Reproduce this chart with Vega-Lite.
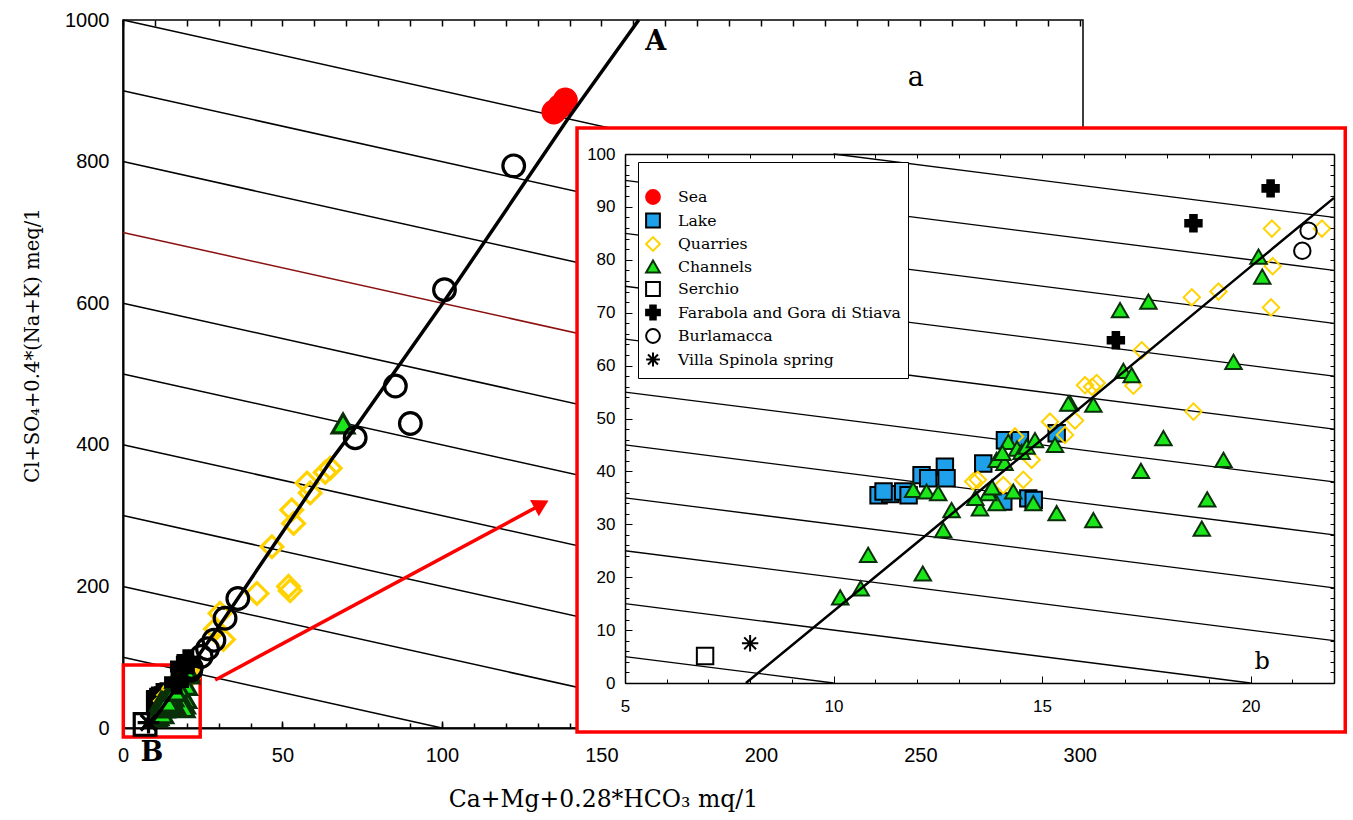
{
  "$schema": "https://vega.github.io/schema/vega-lite/v6.json",
  "width": 960,
  "height": 708,
  "autosize": {"type": "none"},
  "padding": {"left": 123, "top": 20, "right": 270, "bottom": 92},
  "background": "white",
  "config": {
    "view": {"stroke": "black", "strokeWidth": 1.5, "fill": "white"},
    "axis": {"grid": false, "domainColor": "black", "tickColor": "black", "labelColor": "black", "titleColor": "black", "labelFont": "Liberation Sans"}
  },
  "datasets": {
    "pts": [
      {"x": 11.08, "y": 35.5, "g": "Lake"}, {"x": 11.36, "y": 35.7, "g": "Lake"}, {"x": 11.2, "y": 36.2, "g": "Lake"}, {"x": 11.67, "y": 36.2, "g": "Lake"}, {"x": 11.8, "y": 35.5, "g": "Lake"}, {"x": 12.11, "y": 39.3, "g": "Lake"}, {"x": 12.27, "y": 38.7, "g": "Lake"}, {"x": 12.67, "y": 40.9, "g": "Lake"}, {"x": 12.71, "y": 38.7, "g": "Lake"}, {"x": 13.59, "y": 41.5, "g": "Lake"}, {"x": 14.11, "y": 45.9, "g": "Lake"}, {"x": 14.47, "y": 45.9, "g": "Lake"}, {"x": 15.35, "y": 47.2, "g": "Lake"}, {"x": 14.07, "y": 34.3, "g": "Lake"}, {"x": 14.67, "y": 34.9, "g": "Lake"}, {"x": 14.8, "y": 34.6, "g": "Lake"},
      {"x": 6.92, "y": 5.1, "g": "Serchio"},
      {"x": 13.35, "y": 38.1, "g": "Quarries"}, {"x": 13.46, "y": 38.4, "g": "Quarries"}, {"x": 14.35, "y": 46.6, "g": "Quarries"}, {"x": 14.75, "y": 42.2, "g": "Quarries"}, {"x": 14.07, "y": 37.4, "g": "Quarries"}, {"x": 14.55, "y": 38.4, "g": "Quarries"}, {"x": 15.19, "y": 49.4, "g": "Quarries"}, {"x": 15.55, "y": 46.9, "g": "Quarries"}, {"x": 15.79, "y": 49.6, "g": "Quarries"}, {"x": 18.63, "y": 51.3, "g": "Quarries"}, {"x": 16.03, "y": 56.3, "g": "Quarries"}, {"x": 16.31, "y": 56.7, "g": "Quarries"}, {"x": 16.2, "y": 56.0, "g": "Quarries"}, {"x": 17.19, "y": 56.2, "g": "Quarries"}, {"x": 17.39, "y": 62.9, "g": "Quarries"}, {"x": 18.59, "y": 72.9, "g": "Quarries"}, {"x": 19.23, "y": 74.0, "g": "Quarries"}, {"x": 20.51, "y": 85.9, "g": "Quarries"}, {"x": 21.71, "y": 85.9, "g": "Quarries"}, {"x": 20.53, "y": 78.8, "g": "Quarries"}, {"x": 20.49, "y": 71.0, "g": "Quarries"},
      {"x": 29, "y": 140, "g": "Quarries"}, {"x": 30.4, "y": 162, "g": "Quarries"}, {"x": 31.5, "y": 125, "g": "Quarries"}, {"x": 42, "y": 190, "g": "Quarries"}, {"x": 46.7, "y": 256, "g": "Quarries"}, {"x": 51.9, "y": 200, "g": "Quarries"}, {"x": 52.4, "y": 194, "g": "Quarries"}, {"x": 52.9, "y": 308, "g": "Quarries"}, {"x": 53.5, "y": 289, "g": "Quarries"}, {"x": 57.7, "y": 346, "g": "Quarries"}, {"x": 58.7, "y": 332, "g": "Quarries"}, {"x": 63.4, "y": 361, "g": "Quarries"}, {"x": 65, "y": 367, "g": "Quarries"},
      {"x": 10.16, "y": 16.2, "g": "Channels"}, {"x": 10.65, "y": 17.9, "g": "Channels"}, {"x": 10.83, "y": 24.2, "g": "Channels"}, {"x": 12.14, "y": 20.7, "g": "Channels"}, {"x": 12.63, "y": 28.9, "g": "Channels"}, {"x": 12.83, "y": 32.7, "g": "Channels"}, {"x": 11.91, "y": 36.5, "g": "Channels"}, {"x": 12.23, "y": 36.2, "g": "Channels"}, {"x": 12.51, "y": 35.9, "g": "Channels"}, {"x": 17.91, "y": 46.3, "g": "Channels"}, {"x": 17.37, "y": 40.1, "g": "Channels"}, {"x": 19.35, "y": 42.2, "g": "Channels"}, {"x": 18.96, "y": 34.7, "g": "Channels"}, {"x": 18.83, "y": 29.2, "g": "Channels"}, {"x": 16.23, "y": 30.8, "g": "Channels"}, {"x": 15.35, "y": 32.1, "g": "Channels"}, {"x": 15.31, "y": 45.0, "g": "Channels"}, {"x": 14.79, "y": 34.0, "g": "Channels"}, {"x": 13.91, "y": 34.0, "g": "Channels"}, {"x": 13.51, "y": 33.0, "g": "Channels"}, {"x": 13.71, "y": 35.9, "g": "Channels"}, {"x": 13.4, "y": 35.0, "g": "Channels"}, {"x": 14.31, "y": 36.2, "g": "Channels"}, {"x": 13.91, "y": 42.2, "g": "Channels"}, {"x": 14.1, "y": 41.6, "g": "Channels"}, {"x": 14.19, "y": 45.6, "g": "Channels"}, {"x": 14.4, "y": 44.3, "g": "Channels"}, {"x": 14.51, "y": 43.7, "g": "Channels"}, {"x": 14.63, "y": 44.7, "g": "Channels"}, {"x": 14.83, "y": 45.9, "g": "Channels"}, {"x": 14.05, "y": 43.5, "g": "Channels"}, {"x": 13.8, "y": 37.0, "g": "Channels"}, {"x": 16.87, "y": 70.5, "g": "Channels"}, {"x": 17.55, "y": 72.1, "g": "Channels"}, {"x": 20.19, "y": 80.6, "g": "Channels"}, {"x": 20.28, "y": 76.8, "g": "Channels"}, {"x": 19.59, "y": 60.7, "g": "Channels"}, {"x": 16.95, "y": 59.0, "g": "Channels"}, {"x": 17.15, "y": 58.2, "g": "Channels"}, {"x": 15.67, "y": 52.9, "g": "Channels"}, {"x": 15.63, "y": 52.8, "g": "Channels"}, {"x": 16.23, "y": 52.6, "g": "Channels"}, {"x": 69, "y": 430, "g": "Channels"},
      {"x": 20.48, "y": 93.5, "g": "Farabola and Gora di Stiava"}, {"x": 18.63, "y": 86.9, "g": "Farabola and Gora di Stiava"}, {"x": 16.77, "y": 64.8, "g": "Farabola and Gora di Stiava"},
      {"x": 21.39, "y": 85.5, "g": "Burlamacca"}, {"x": 21.24, "y": 81.7, "g": "Burlamacca"}, {"x": 24.5, "y": 101, "g": "Burlamacca"}, {"x": 26.5, "y": 112, "g": "Burlamacca"}, {"x": 28.5, "y": 124, "g": "Burlamacca"}, {"x": 32, "y": 155, "g": "Burlamacca"}, {"x": 36, "y": 183, "g": "Burlamacca"}, {"x": 72.8, "y": 410, "g": "Burlamacca"}, {"x": 90.1, "y": 430, "g": "Burlamacca"}, {"x": 85.4, "y": 483, "g": "Burlamacca"}, {"x": 100.8, "y": 619, "g": "Burlamacca"}, {"x": 122.5, "y": 794, "g": "Burlamacca"},
      {"x": 8.0, "y": 7.5, "g": "Villa Spinola spring"},
      {"x": 135.1, "y": 870, "g": "Sea"}, {"x": 137, "y": 878, "g": "Sea"}, {"x": 138.7, "y": 887, "g": "Sea"}
    ],
    "mainLines": [
      {"c": 100, "x1": 0, "y1": 100, "x2": 100, "y2": 0},
      {"c": 200, "x1": 0, "y1": 200, "x2": 200, "y2": 0},
      {"c": 300, "x1": 0, "y1": 300, "x2": 300, "y2": 0},
      {"c": 400, "x1": 0, "y1": 400, "x2": 301, "y2": 99},
      {"c": 500, "x1": 0, "y1": 500, "x2": 301, "y2": 199},
      {"c": 600, "x1": 0, "y1": 600, "x2": 301, "y2": 299},
      {"c": 700, "x1": 0, "y1": 700, "x2": 301, "y2": 399},
      {"c": 800, "x1": 0, "y1": 800, "x2": 301, "y2": 499},
      {"c": 900, "x1": 0, "y1": 900, "x2": 301, "y2": 599},
      {"c": 1000, "x1": 0, "y1": 1000, "x2": 301, "y2": 699}
    ],
    "insetLines": [
      {"c": 10, "x1": 5, "y1": 5, "x2": 10, "y2": 0},
      {"c": 20, "x1": 5, "y1": 15, "x2": 20, "y2": 0},
      {"c": 30, "x1": 5, "y1": 25, "x2": 22, "y2": 8},
      {"c": 40, "x1": 5, "y1": 35, "x2": 22, "y2": 18},
      {"c": 50, "x1": 5, "y1": 45, "x2": 22, "y2": 28},
      {"c": 60, "x1": 5, "y1": 55, "x2": 22, "y2": 38},
      {"c": 70, "x1": 5, "y1": 65, "x2": 22, "y2": 48},
      {"c": 80, "x1": 5, "y1": 75, "x2": 22, "y2": 58},
      {"c": 90, "x1": 5, "y1": 85, "x2": 22, "y2": 68},
      {"c": 100, "x1": 5, "y1": 95, "x2": 22, "y2": 78},
      {"c": 110, "x1": 10, "y1": 100, "x2": 22, "y2": 88}
    ],
    "mixMain": [
      {"x": 7.9, "y": 0}, {"x": 31.5, "y": 153}, {"x": 66, "y": 383}, {"x": 72.3, "y": 421}, {"x": 100, "y": 598}, {"x": 139.3, "y": 859}, {"x": 161.7, "y": 1000}
    ],
    "mixInset": [
      {"x": 7.9, "y": 0}, {"x": 12.15, "y": 27.5}, {"x": 20.17, "y": 79.8}, {"x": 22, "y": 91.7}
    ],
    "one": [{}]
  },
  "resolve": {"scale": {"x": "independent", "y": "independent"}},
  "layer": [
    {
      "layer": [
        {
          "data": {"name": "mainLines"},
          "mark": {"type": "rule", "strokeWidth": 1.5},
          "encoding": {
            "x": {"field": "x1", "type": "quantitative", "scale": {"domain": [0, 301], "nice": false, "zero": false},
              "axis": {"orient": "bottom", "values": [0, 50, 100, 150, 200, 250, 300], "format": "d",
                "tickSize": -7, "tickWidth": 1.5, "domainWidth": 2,
                "labelFontSize": 20, "labelPadding": 24, "labelFlush": false, "labelOverlap": false,
                "title": "Ca+Mg+0.28*HCO₃ mq/1", "titleFont": "DejaVu Serif", "titleFontSize": 23.5, "titleFontWeight": "normal", "titlePadding": 22}},
            "y": {"field": "y1", "type": "quantitative", "scale": {"domain": [0, 1000], "nice": false, "zero": false},
              "axis": {"orient": "left", "values": [0, 200, 400, 600, 800, 1000], "format": "d", "ticks": false, "domainWidth": 2,
                "labelFontSize": 20, "labelPadding": 14, "labelFlush": false, "labelOverlap": false,
                "title": "Cl+SO₄+0.4*(Na+K) meq/1", "titleFont": "DejaVu Serif", "titleFontSize": 19.5, "titleFontWeight": "normal", "titlePadding": 22, "titleY": 325}},
            "x2": {"field": "x2"},
            "y2": {"field": "y2"},
            "stroke": {"condition": {"test": "datum.c === 700", "value": "#8B1010"}, "value": "black"}
          }
        },
        {
          "data": {"name": "one"},
          "mark": {"type": "rect", "fill": "transparent", "stroke": "#FF0000", "strokeWidth": 3.5},
          "encoding": {
            "x": {"datum": 0.1, "type": "quantitative"},
            "x2": {"datum": 24.2},
            "y": {"datum": -12.7, "type": "quantitative"},
            "y2": {"datum": 89}
          }
        },
        {
          "data": {"name": "pts"},
          "mark": {"type": "point", "filled": true, "size": 470, "strokeWidth": 3.2, "opacity": 1},
          "encoding": {
            "x": {"field": "x", "type": "quantitative"},
            "y": {"field": "y", "type": "quantitative"},
            "shape": {"field": "g", "type": "nominal"},
            "fill": {"field": "g", "type": "nominal"},
            "stroke": {"field": "g", "type": "nominal"}
          }
        },
        {
          "data": {"name": "mixMain"},
          "mark": {"type": "line", "color": "black", "strokeWidth": 3.5},
          "encoding": {
            "x": {"field": "x", "type": "quantitative"},
            "y": {"field": "y", "type": "quantitative"}
          }
        },
        {
          "data": {"name": "one"},
          "mark": {"type": "rule", "color": "#FF0000", "strokeWidth": 3.5},
          "encoding": {
            "x": {"datum": 28.9, "type": "quantitative"},
            "y": {"datum": 67.8, "type": "quantitative"},
            "x2": {"datum": 130.5},
            "y2": {"datum": 314}
          }
        },
        {
          "data": {"name": "one"},
          "mark": {"type": "point", "shape": "triangle-up", "filled": true, "color": "#FF0000", "size": 340, "angle": 61.6, "opacity": 1},
          "encoding": {
            "x": {"datum": 131.2, "type": "quantitative"},
            "y": {"datum": 316, "type": "quantitative"}
          }
        },
        {
          "data": {"name": "one"},
          "mark": {"type": "text", "text": "A", "font": "DejaVu Serif", "fontWeight": "bold", "fontSize": 27, "align": "center", "baseline": "middle", "color": "black"},
          "encoding": {"x": {"datum": 167, "type": "quantitative"}, "y": {"datum": 969, "type": "quantitative"}}
        },
        {
          "data": {"name": "one"},
          "mark": {"type": "text", "text": "B", "font": "DejaVu Serif", "fontWeight": "bold", "fontSize": 27, "align": "center", "baseline": "middle", "color": "black"},
          "encoding": {"x": {"datum": 9.1, "type": "quantitative"}, "y": {"datum": -35, "type": "quantitative"}}
        },
        {
          "data": {"name": "one"},
          "mark": {"type": "text", "text": "a", "font": "DejaVu Serif", "fontSize": 27, "align": "center", "baseline": "middle", "color": "black"},
          "encoding": {"x": {"datum": 248.6, "type": "quantitative"}, "y": {"datum": 918, "type": "quantitative"}}
        }
      ]
    },
    {
      "data": {"name": "one"},
      "mark": {"type": "rule", "opacity": 0},
      "encoding": {
        "x": {"datum": 0, "type": "quantitative", "scale": {"domain": [0, 301], "nice": false, "zero": false},
          "axis": {"orient": "top", "values": [0,10,20,30,40,50,60,70,80,90,100,110,120,130,140,150,160,170,180,190,200,210,220,230,240,250,260,270,280,290,300],
            "labels": false, "tickSize": -6, "tickWidth": 1.5, "domain": false, "title": null}}
      }
    },
    {
      "data": {"name": "one"},
      "mark": {"type": "rule", "opacity": 0},
      "encoding": {
        "x": {"datum": 0, "type": "quantitative", "scale": {"domain": [0, 301], "nice": false, "zero": false},
          "axis": {"orient": "bottom", "values": [0,10,20,30,40,50,60,70,80,90,100,110,120,130,140,150,160,170,180,190,200,210,220,230,240,250,260,270,280,290,300],
            "labels": false, "tickSize": -5, "tickWidth": 1.5, "domain": false, "title": null}}
      }
    },
    {
      "layer": [
        {
          "data": {"name": "one"},
          "mark": {"type": "rect", "fill": "white", "stroke": "#FF0000", "strokeWidth": 3.5},
          "encoding": {
            "x": {"datum": 3.85, "type": "quantitative", "scale": {"domain": [5, 22], "range": [502, 1211], "nice": false, "zero": false},
              "axis": {"orient": "bottom", "offset": -45, "values": [5, 10, 15, 20], "format": "d",
                "tickSize": -7, "tickWidth": 1, "domainWidth": 1.5,
                "labelFontSize": 17, "labelFont": "Liberation Sans", "labelPadding": 22, "labelFlush": false, "labelOverlap": false, "title": null, "zindex": 1}},
            "x2": {"datum": 22.27},
            "y": {"datum": -9.26, "type": "quantitative", "scale": {"domain": [0, 100], "range": [663, 134], "nice": false, "zero": false},
              "axis": {"orient": "left", "offset": -502, "values": [0, 10, 20, 30, 40, 50, 60, 70, 80, 90, 100], "format": "d",
                "tickSize": -7, "tickWidth": 1, "domainWidth": 1.5,
                "labelFontSize": 17, "labelFont": "Liberation Sans", "labelPadding": 17, "labelFlush": false, "labelOverlap": false, "title": null, "zindex": 1}},
            "y2": {"datum": 104.9}
          }
        },
        {
          "data": {"name": "insetLines"},
          "mark": {"type": "rule", "strokeWidth": 1.3, "color": "black"},
          "encoding": {
            "x": {"field": "x1", "type": "quantitative", "axis": {"labelFontSize": 17}},
            "y": {"field": "y1", "type": "quantitative", "axis": {"labelFontSize": 17}},
            "x2": {"field": "x2"},
            "y2": {"field": "y2"}
          }
        },
        {
          "data": {"name": "pts"},
          "transform": [{"filter": "datum.x >= 5 && datum.x <= 22 && datum.y >= 0 && datum.y <= 100"}],
          "mark": {"type": "point", "filled": true, "size": 270, "strokeWidth": 2, "opacity": 1},
          "encoding": {
            "x": {"field": "x", "type": "quantitative"},
            "y": {"field": "y", "type": "quantitative"},
            "shape": {"field": "g", "type": "nominal",
              "scale": {"domain": ["Sea", "Lake", "Quarries", "Channels", "Serchio", "Farabola and Gora di Stiava", "Burlamacca", "Villa Spinola spring"],
                "range": ["circle", "square", "diamond", "triangle-up", "square", "cross", "circle", "M-1,0L1,0M0,-1L0,1M-0.72,-0.72L0.72,0.72M-0.72,0.72L0.72,-0.72"]},
              "legend": {"orient": "none", "legendX": 515, "legendY": 142, "title": " ", "titleFontSize": 14, "titlePadding": 6, "padding": 7,
                "strokeColor": "black", "fillColor": "white", "labelFont": "DejaVu Serif", "labelFontSize": 15.7, "labelColor": "black",
                "symbolSize": 190, "symbolStrokeWidth": 2, "rowPadding": 1.5, "labelOffset": 17, "labelLimit": 400}},
            "fill": {"field": "g", "type": "nominal",
              "scale": {"domain": ["Sea", "Lake", "Quarries", "Channels", "Serchio", "Farabola and Gora di Stiava", "Burlamacca", "Villa Spinola spring"],
                "range": ["#FF0000", "#1EA0EB", "transparent", "#1AE61A", "transparent", "black", "transparent", "black"]},
              "legend": {"orient": "none", "legendX": 515, "legendY": 142, "title": " ", "titleFontSize": 14, "titlePadding": 6, "padding": 7,
                "strokeColor": "black", "fillColor": "white", "labelFont": "DejaVu Serif", "labelFontSize": 15.7, "labelColor": "black",
                "symbolSize": 190, "symbolStrokeWidth": 2, "rowPadding": 1.5, "labelOffset": 17, "labelLimit": 400}},
            "stroke": {"field": "g", "type": "nominal",
              "scale": {"domain": ["Sea", "Lake", "Quarries", "Channels", "Serchio", "Farabola and Gora di Stiava", "Burlamacca", "Villa Spinola spring"],
                "range": ["#FF0000", "black", "#FFD200", "#0A300A", "black", "black", "black", "black"]},
              "legend": {"orient": "none", "legendX": 515, "legendY": 142, "title": " ", "titleFontSize": 14, "titlePadding": 6, "padding": 7,
                "strokeColor": "black", "fillColor": "white", "labelFont": "DejaVu Serif", "labelFontSize": 15.7, "labelColor": "black",
                "symbolSize": 190, "symbolStrokeWidth": 2, "rowPadding": 1.5, "labelOffset": 17, "labelLimit": 400}}
          }
        },
        {
          "data": {"name": "mixInset"},
          "mark": {"type": "line", "color": "black", "strokeWidth": 2.5},
          "encoding": {
            "x": {"field": "x", "type": "quantitative"},
            "y": {"field": "y", "type": "quantitative"}
          }
        },
        {
          "data": {"name": "one"},
          "mark": {"type": "text", "text": "b", "font": "DejaVu Serif", "fontSize": 24, "align": "center", "baseline": "middle", "color": "black"},
          "encoding": {"x": {"datum": 20.28, "type": "quantitative"}, "y": {"datum": 4.0, "type": "quantitative"}}
        }
      ]
    },
    {
      "data": {"name": "one"},
      "mark": {"type": "point", "opacity": 0},
      "encoding": {
        "x": {"datum": 5, "type": "quantitative", "scale": {"domain": [5, 22], "range": [502, 1211], "nice": false, "zero": false},
          "axis": {"orient": "top", "offset": -134, "values": [5,6,7,8,9,10,11,12,13,14,15,16,17,18,19,20,21,22],
            "labels": false, "tickSize": -4, "tickWidth": 1, "domainWidth": 1.5, "title": null, "zindex": 1}},
        "y": {"datum": 0, "type": "quantitative", "scale": {"domain": [0, 100], "range": [663, 134], "nice": false, "zero": false},
          "axis": {"orient": "right", "offset": 251, "values": [0,2,4,6,8,10,12,14,16,18,20,22,24,26,28,30,32,34,36,38,40,42,44,46,48,50,52,54,56,58,60,62,64,66,68,70,72,74,76,78,80,82,84,86,88,90,92,94,96,98,100],
            "labels": false, "tickSize": -4, "tickWidth": 1, "domainWidth": 1.5, "title": null, "zindex": 1}}
      }
    },
    {
      "data": {"name": "one"},
      "mark": {"type": "point", "opacity": 0},
      "encoding": {
        "x": {"datum": 5, "type": "quantitative", "scale": {"domain": [5, 22], "range": [502, 1211], "nice": false, "zero": false},
          "axis": {"orient": "bottom", "offset": -45, "values": [5,6,7,8,9,10,11,12,13,14,15,16,17,18,19,20,21,22],
            "labels": false, "tickSize": -4, "tickWidth": 1, "domain": false, "title": null, "zindex": 1}},
        "y": {"datum": 0, "type": "quantitative", "scale": {"domain": [0, 100], "range": [663, 134], "nice": false, "zero": false},
          "axis": {"orient": "left", "offset": -502, "values": [0,2,4,6,8,10,12,14,16,18,20,22,24,26,28,30,32,34,36,38,40,42,44,46,48,50,52,54,56,58,60,62,64,66,68,70,72,74,76,78,80,82,84,86,88,90,92,94,96,98,100],
            "labels": false, "tickSize": -4, "tickWidth": 1, "domain": false, "title": null, "zindex": 1}}
      }
    }
  ]
}
